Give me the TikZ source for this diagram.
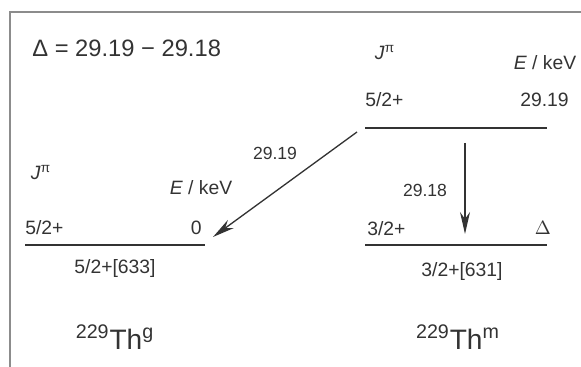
\documentclass[tikz,border=0pt]{standalone}
\usepackage{fontspec}
\setmainfont{Liberation Sans}
\usetikzlibrary{arrows.meta}
\definecolor{ink}{HTML}{333333}

\begin{document}
\begin{tikzpicture}[x=0.02cm,y=-0.02cm,
    lbl/.style={font=\fontsize{11}{13}\selectfont,text=ink,inner sep=0pt},
    tlbl/.style={lbl,font=\fontsize{10}{12}\selectfont},
    head/.style={lbl,font=\fontsize{13.5}{16}\selectfont},
    nucl/.style={lbl,font=\fontsize{16}{19}\selectfont},
    level/.style={ink,line width=1.4pt},
    decay/.style={-{Stealth[length=4.4mm,width=2mm,inset=1.4mm]},ink,line width=0.75pt},
    border/.style={black!45,line width=0.7pt}
  ]
  \useasboundingbox (0,0) rectangle (581,367);
  % frame (top and left only)
  \draw[border] (10,367) -- (10,12) -- (581,12);

  \node[head,anchor=west] (delta) at (32,48) {Δ = 29.19 − 29.18};

  % isomer (right, upper level)
  \node[lbl] (mjp) at (385,53) {\textit{J}\textsuperscript{π}};
  \node[lbl] (men) at (545,63) {\textit{E} / keV};
  \node[lbl,anchor=west] (mspin) at (365,100) {5/2+};
  \node[lbl,anchor=east] (meng) at (569,100) {29.19};
  \coordinate (mL) at (365,128);
  \coordinate (mR) at (547,128);
  \draw[level] (mL) -- (mR);

  % ground state (left)
  \node[lbl] (gjp) at (41,173) {\textit{J}\textsuperscript{π}};
  \node[lbl] (gen) at (201,188) {\textit{E} / keV};
  \node[lbl,anchor=west] (gspin) at (25,228) {5/2+};
  \node[lbl,anchor=east] (geng) at (202,228) {0};
  \coordinate (gL) at (25,245);
  \coordinate (gR) at (205,245);
  \draw[level] (gL) -- (gR);
  \node[lbl] (gnil) at (115,269) {5/2+[633]};
  \node[nucl] (gth) at (115,337) {\textsuperscript{229}Th\textsuperscript{g}};

  % isomer band head (right, lower level)
  \node[lbl,anchor=west] (hspin) at (367,229) {3/2+};
  \node[lbl] (heng) at (543,228) {$\Delta$};
  \coordinate (hL) at (365,245);
  \coordinate (hR) at (547,245);
  \draw[level] (hL) -- (hR);
  \node[lbl] (hnil) at (462,272) {3/2+[631]};
  \node[nucl] (hth) at (458,337) {\textsuperscript{229}Th\textsuperscript{m}};

  % transitions
  \coordinate (ms) at (357,132);
  \coordinate (g0) at (213,237);
  \coordinate (mv) at (465,143);
  \coordinate (ht) at (465,234);
  \draw[decay] (ms) -- (g0);
  \draw[decay] (mv) -- (ht);
  \node[tlbl] (tg) at (275,153) {29.19};
  \node[tlbl] (tm) at (425,190) {29.18};
\end{tikzpicture}
\end{document}
